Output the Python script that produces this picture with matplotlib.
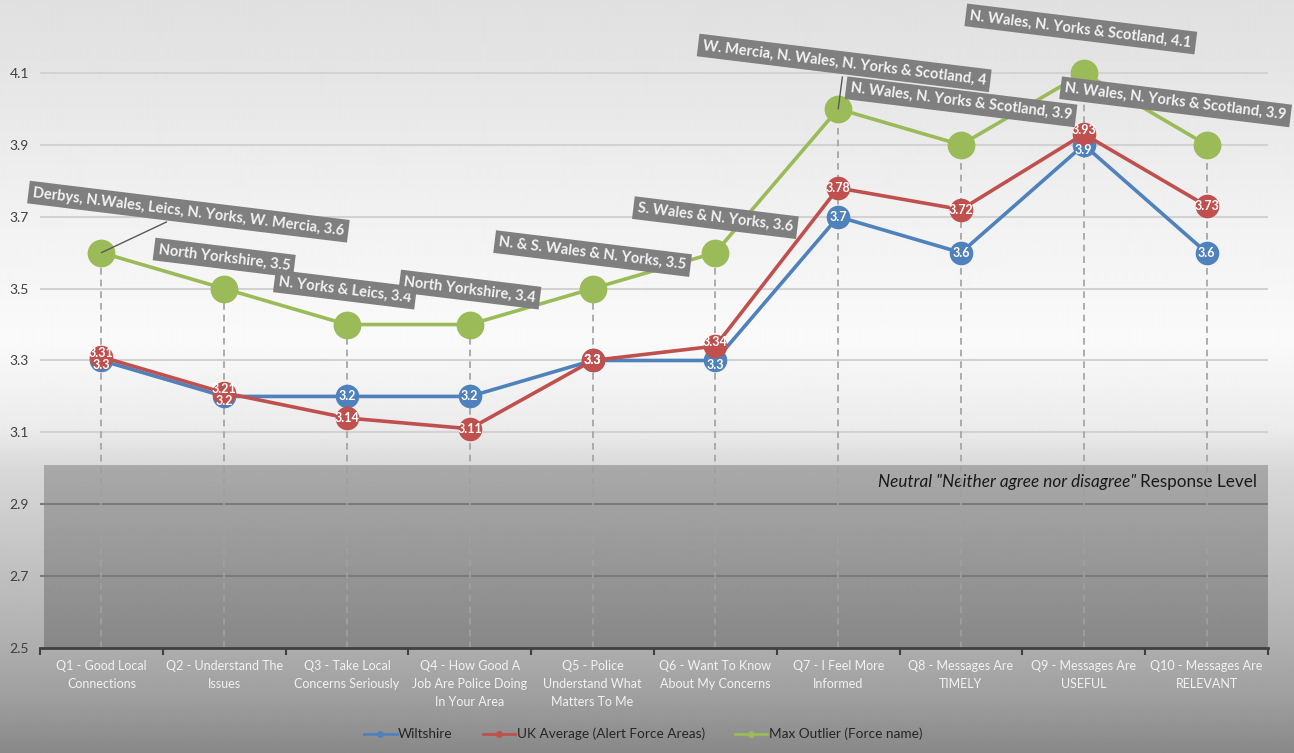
import numpy as np
import matplotlib.pyplot as plt
from matplotlib.lines import Line2D

plt.rcParams['font.family'] = ['Lato', 'DejaVu Sans']

questions = ['Q1 - Good Local\nConnections', 'Q2 - Understand The\nIssues',
             'Q3 - Take Local\nConcerns Seriously', 'Q4 - How Good A\nJob Are Police Doing\nIn Your Area',
             'Q5 - Police\nUnderstand What\nMatters To Me', 'Q6 - Want To Know\nAbout My Concerns',
             'Q7 - I Feel More\nInformed', 'Q8 - Messages Are\nTIMELY',
             'Q9 - Messages Are\nUSEFUL', 'Q10 - Messages Are\nRELEVANT']
wiltshire = [3.3, 3.2, 3.2, 3.2, 3.3, 3.3, 3.7, 3.6, 3.9, 3.6]
uk_average = [3.31, 3.21, 3.14, 3.11, 3.3, 3.34, 3.78, 3.72, 3.93, 3.73]
max_outlier = [3.6, 3.5, 3.4, 3.4, 3.5, 3.6, 4.0, 3.9, 4.1, 3.9]
outlier_names = ['Derbys, N.Wales, Leics, N. Yorks, W. Mercia', 'North Yorkshire',
                 'N. Yorks & Leics', 'North Yorkshire', 'N. & S. Wales & N. Yorks',
                 'S. Wales & N. Yorks', 'W. Mercia, N. Wales, N. Yorks & Scotland',
                 'N. Wales, N. Yorks & Scotland', 'N. Wales, N. Yorks & Scotland',
                 'N. Wales, N. Yorks & Scotland']
yticks = [2.5, 2.7, 2.9, 3.1, 3.3, 3.5, 3.7, 3.9, 4.1]

# where the grey callouts sit, in pixels from their point
label_dx = [87, 0, -2, 0, 0, 0, 6, 0, -3, -31]
label_dy = [41, 31, 35, 35, 35, 35, 46, 43, 44, 43]
leader = [True, False, False, False, False, False, True, False, False, False]

blue = '#4f81bd'
red = '#c0504d'
green = '#9bbb59'

fig = plt.figure(figsize=(12.94, 7.53), dpi=100)

# background gradient for the whole slide
rows = np.arange(753)
grad = np.interp(rows, [0, 60, 200, 340, 430, 470, 640, 700, 753],
                 [224, 228, 240, 250, 235, 216, 176, 158, 136])
bg = fig.add_axes([0, 0, 1, 1])
bg.imshow(np.repeat(grad[:, None], 4, axis=1), cmap='gray', vmin=0, vmax=255, aspect='auto',
          extent=[0, 1, 0, 1], interpolation='bilinear')
bg.axis('off')

ax = fig.add_axes([40 / 1294, 1 - 648 / 753, 1228 / 1294, 648 / 753])
ax.set_facecolor('none')
x = np.arange(len(questions)) + 0.5
ax.set_xlim(0, 10)
ax.set_ylim(2.5, 2.5 + 648 / 359.4)

# neutral band
ax.axhspan(2.5, 3.01, xmin=4 / 1228, xmax=1, color='black', alpha=0.22, lw=0, zorder=0.5)
for v in yticks[1:]:
    ax.axhline(v, color='#7a7a7a' if v < 3 else '#d2d2d2', lw=1.5, zorder=1)

t = ax.text(9.91, 2.962, 'Response Level', ha='right', va='center', fontsize=12.3, color='#1a1a1a', zorder=2)
ax.annotate('Neutral "Neither agree nor disagree" ', xy=(0, 0.5), xycoords=t, ha='right', va='center',
            fontsize=12.3, style='italic', color='#1a1a1a', zorder=2)

# drop lines
ax.vlines(x, 2.5, np.max([wiltshire, uk_average, max_outlier], axis=0), colors='#a0a0a0',
          linestyles=(0, (4, 3)), lw=1.2, zorder=2)

ax.plot(x, wiltshire, color=blue, lw=2.6, marker='o', ms=17, mew=0, zorder=3)
ax.plot(x, uk_average, color=red, lw=2.6, marker='o', ms=17, mew=0, zorder=4)
ax.plot(x, max_outlier, color=green, lw=2.6, marker='o', ms=20, mew=0, zorder=5)

for i in range(len(x)):
    close = 0 < abs(uk_average[i] - wiltshire[i]) < 0.05
    ax.annotate(f'{wiltshire[i]:g}', (x[i], wiltshire[i]), xytext=(0, -3.5 if close else 0),
                textcoords='offset points', ha='center', va='center', color='white',
                fontsize=9, fontweight='bold', zorder=6)
    ax.annotate(f'{uk_average[i]:g}', (x[i], uk_average[i]), xytext=(0, 3 if close else 0),
                textcoords='offset points', ha='center', va='center', color='white',
                fontsize=9, fontweight='bold', zorder=6)
    ap = dict(arrowstyle='-', color='#595959', lw=1, shrinkB=0) if leader[i] else None
    ax.annotate(f'{outlier_names[i]}, {max_outlier[i]:g}', (x[i], max_outlier[i]),
                xytext=(label_dx[i] * 0.72, label_dy[i] * 0.72), textcoords='offset points',
                ha='center', va='center', rotation=-7, rotation_mode='anchor',
                color='#f2f2f2', fontsize=10.5, fontweight='bold',
                bbox=dict(boxstyle='square,pad=0.3', fc='#7f7f7f', ec='none'),
                arrowprops=ap, zorder=7)

for s in ['top', 'right', 'left']:
    ax.spines[s].set_visible(False)
ax.spines['bottom'].set_color('#404040')
ax.spines['bottom'].set_linewidth(2)

ax.set_xticks(x)
ax.set_xticklabels(questions, fontsize=9, color='#f2f2f2', linespacing=1.6)
ax.set_xticks(np.arange(11), minor=True)
ax.tick_params(axis='x', which='major', length=0, pad=9)
ax.tick_params(axis='x', which='minor', length=5, width=1.5, color='#404040')
ax.set_yticks(yticks)
ax.set_yticklabels([f'{v:.1f}' for v in yticks], fontsize=10, color='#404040')
ax.tick_params(axis='y', length=0, pad=8)

handles = [Line2D([], [], color=blue, lw=2, marker='o', ms=4),
           Line2D([], [], color=red, lw=2, marker='o', ms=4),
           Line2D([], [], color=green, lw=2, marker='o', ms=4)]
fig.legend(handles, ['Wiltshire', 'UK Average (Alert Force Areas)', 'Max Outlier (Force name)'],
           loc='center', bbox_to_anchor=(0.497, 0.025), ncol=3, frameon=False, fontsize=9.8,
           handlelength=2.4, columnspacing=2.2, handletextpad=0.1, labelcolor='#262626')

fig.savefig('out.png', dpi=100)
